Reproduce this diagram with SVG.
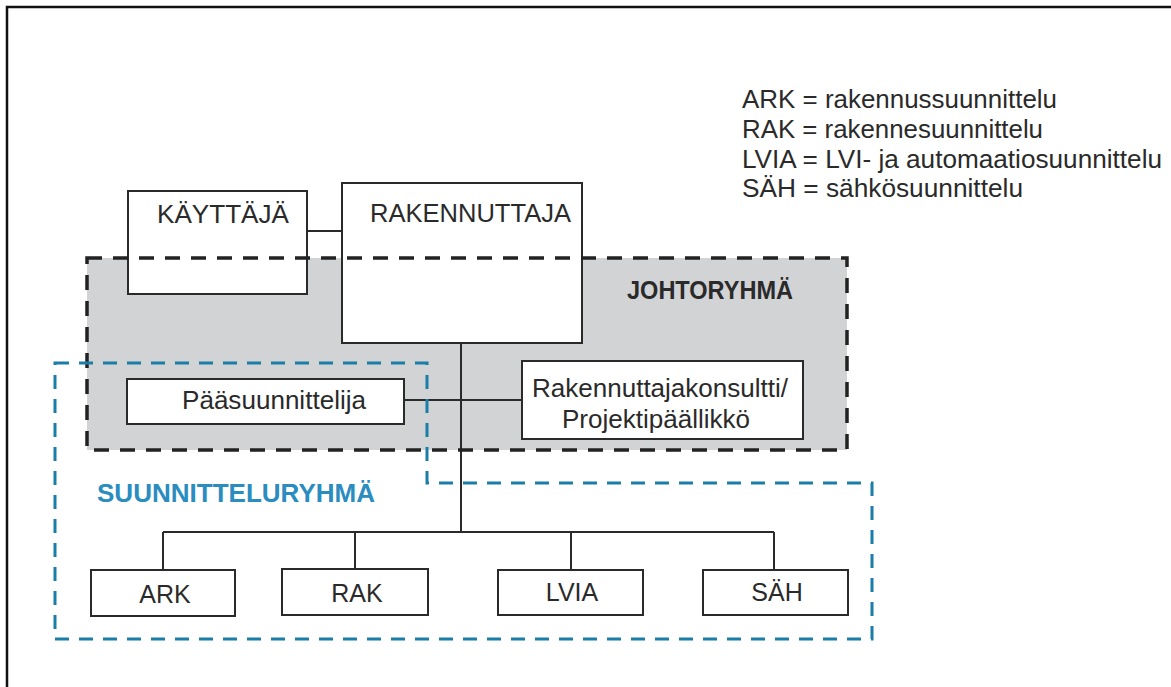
<svg xmlns="http://www.w3.org/2000/svg" width="1171" height="687" viewBox="0 0 1171 687">
<style>
.box{fill:#fff;stroke:#2a2a2a;stroke-width:2}
.t{font-family:"Liberation Sans",Arial,sans-serif;font-size:25px;fill:#2a2a2a}
.c{text-anchor:middle}
.conn{stroke:#2a2a2a;stroke-width:2;fill:none}
.jd{fill:none;stroke:#222;stroke-width:3.5;stroke-dasharray:15 11}
.sd{fill:none;stroke:#1b7ea8;stroke-width:3;stroke-dasharray:14 10}
</style>
<rect width="1171" height="687" fill="#fff"/>
<path d="M7,687 V7 H1171" fill="none" stroke="#111" stroke-width="2.5"/>
<rect id="johtoryhma-fill" x="87" y="258" width="760" height="192" fill="#d2d3d5"/>
<g id="connectors" class="conn">
<line x1="307" y1="231" x2="342" y2="231"/>
<line x1="461" y1="343" x2="461" y2="532"/>
<line x1="404" y1="400" x2="522" y2="400"/>
<line x1="163" y1="532" x2="774" y2="532"/>
<line x1="163" y1="532" x2="163" y2="570"/>
<line x1="355" y1="532" x2="355" y2="569"/>
<line x1="571" y1="532" x2="571" y2="570"/>
<line x1="774" y1="532" x2="774" y2="570"/>
</g>
<g id="kayttaja"><rect class="box" x="128" y="191" width="179" height="103"/><text class="t" x="157" y="223" textLength="132" lengthAdjust="spacingAndGlyphs">KÄYTTÄJÄ</text></g>
<g id="rakennuttaja"><rect class="box" x="342" y="183" width="240" height="160"/><text class="t" x="370" y="222" textLength="201" lengthAdjust="spacingAndGlyphs">RAKENNUTTAJA</text></g>
<g id="paasuunnittelija"><rect class="box" x="127" y="379" width="277" height="45"/><text class="t" x="182" y="409" textLength="184" lengthAdjust="spacingAndGlyphs">Pääsuunnittelija</text></g>
<g id="rakennuttajakonsultti"><rect class="box" x="522" y="361" width="281" height="78"/><text class="t" x="532" y="397" textLength="256" lengthAdjust="spacingAndGlyphs">Rakennuttajakonsultti/</text><text class="t" x="562" y="428" textLength="188" lengthAdjust="spacingAndGlyphs">Projektipäällikkö</text></g>
<g id="ark"><rect class="box" x="91" y="570" width="144" height="46"/><text class="t c" x="165" y="603">ARK</text></g>
<g id="rak"><rect class="box" x="282" y="569" width="146" height="46"/><text class="t c" x="357" y="602">RAK</text></g>
<g id="lvia"><rect class="box" x="498" y="570" width="145" height="45"/><text class="t c" x="572" y="601">LVIA</text></g>
<g id="sah"><rect class="box" x="703" y="570" width="145" height="45"/><text class="t c" x="777" y="601">SÄH</text></g>
<g id="johtoryhma">
<rect class="jd" x="87" y="258" width="760" height="192"/>
<text class="t" x="627" y="299" font-weight="bold" font-size="23" textLength="166" lengthAdjust="spacingAndGlyphs">JOHTORYHMÄ</text>
</g>
<g id="suunnitteluryhma">
<path class="sd" d="M55,363 H427 V483 H872 V639 H55 Z"/>
<text class="t" x="97" y="502" font-weight="bold" font-size="24" style="fill:#2a8cbf" textLength="278" lengthAdjust="spacingAndGlyphs">SUUNNITTELURYHMÄ</text>
</g>
<g id="legend" class="t">
<text x="742" y="108" textLength="315" lengthAdjust="spacingAndGlyphs">ARK = rakennussuunnittelu</text>
<text x="742" y="138" textLength="301" lengthAdjust="spacingAndGlyphs">RAK = rakennesuunnittelu</text>
<text x="742" y="168" textLength="420" lengthAdjust="spacingAndGlyphs">LVIA = LVI- ja automaatiosuunnittelu</text>
<text x="742" y="197" textLength="281" lengthAdjust="spacingAndGlyphs">SÄH = sähkösuunnittelu</text>
</g>
</svg>
